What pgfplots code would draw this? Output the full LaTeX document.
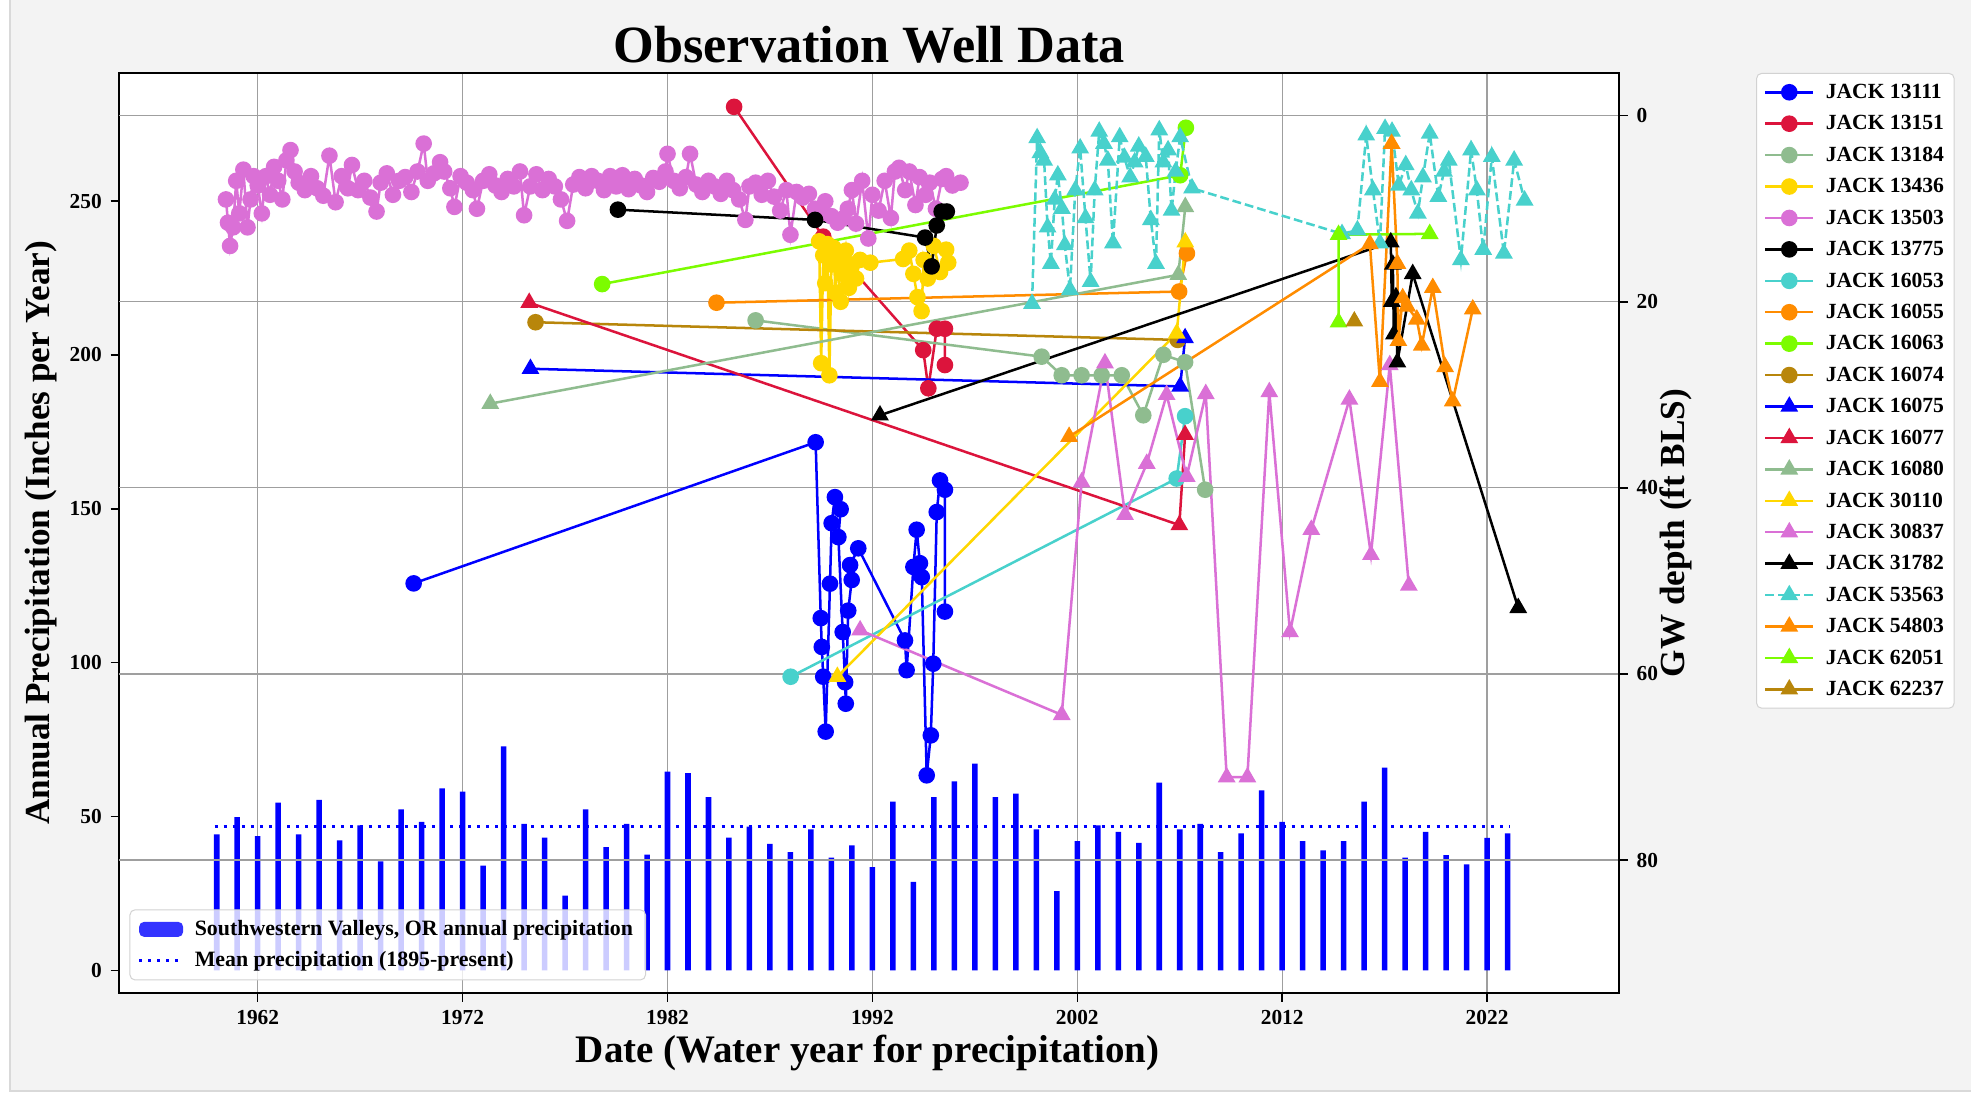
\documentclass[border=0pt]{standalone}
\usepackage{fontspec}
\setmainfont{Liberation Serif}
\usepackage{pgfplots}
\pgfplotsset{compat=1.18}

\definecolor{cBlue}{HTML}{0000FF}
\definecolor{cCrimson}{HTML}{DC143C}
\definecolor{cSeaGreen}{HTML}{8FBC8F}
\definecolor{cGold}{HTML}{FFD700}
\definecolor{cOrchid}{HTML}{DA70D6}
\definecolor{cTurq}{HTML}{48D1CC}
\definecolor{cOrange}{HTML}{FF8C00}
\definecolor{cLawn}{HTML}{7CFC00}
\definecolor{cGoldenrod}{HTML}{B8860B}
\definecolor{figbg}{HTML}{F3F3F3}

\pgfplotsset{
  common/.style={
    scale only axis, width=596.5pt, height=366pt,
    xmin=1955.25, xmax=2028.44,
    /pgf/number format/assume math mode=true,
    ticklabel style={font=\bfseries\fontsize{8.5}{10}\selectfont},
    tick style={black, line width=0.6pt},
    major tick length=3.5pt,
    tick align=outside,
    axis line style={line width=0.8pt},
    major grid style={gray!75, line width=0.5pt},
  },
  wc/.style={line width=1pt, mark=*, mark size=2.8pt, mark options={solid}, color=#1},
  wt/.style={line width=1pt, mark=triangle*, mark size=3.1pt, mark options={solid}, color=#1},
}

\begin{document}
\begin{tikzpicture}
\useasboundingbox (-47.5pt,-40pt) rectangle (736.5pt,395pt);
\fill[figbg] (-43.5pt,-39pt) rectangle (736.5pt,395pt);
\draw[gray!30, line width=0.8pt] (-43.5pt,395pt) -- (-43.5pt,-39pt) -- (736.5pt,-39pt);

\begin{axis}[common,
  axis background/.style={fill=white},
  ymin=-7.4, ymax=291.7,
  ytick={0,50,100,150,200,250},
  xtick={1962,1972,1982,1992,2002,2012,2022},
  xticklabels={1962,1972,1982,1992,2002,2012,2022},
  xtick pos=left, ytick pos=left,
  xmajorgrids,
  title={Observation Well Data},
  title style={font=\bfseries\fontsize{20.8}{24}\selectfont, at={(axis description cs:0.5,1.0314)}, anchor=center, yshift=-6.5pt},
  xlabel={Date (Water year for precipitation)},
  xlabel style={font=\bfseries\fontsize{15.5}{18}\selectfont, at={(axis description cs:0.499,-0.0655)}, anchor=center},
  ylabel={Annual Precipitation (Inches per Year)},
  ylabel style={font=\bfseries\fontsize{14}{16}\selectfont, at={(axis description cs:-0.052,0.5)}, anchor=center},
  legend style={at={(0.0067,0.0137)}, anchor=south west, fill=white, fill opacity=0.8, text opacity=1,
    draw=gray!35, rounded corners=2pt, font=\bfseries\fontsize{8.7}{10}\selectfont, row sep=0.8pt,
    /tikz/every odd column/.append style={column sep=2pt}},
  legend cell align=left,
]
\addplot[ybar, bar width=0.27, bar shift=0pt, fill=cBlue, draw=none,
  legend image code/.code={\fill[cBlue] (0pt,-3pt) rectangle (17.5pt,3pt);}]
coordinates {
(1960,44.2) (1961,49.8) (1962,43.6) (1963,54.5) (1964,44.2) (1965,55.4) (1966,42.2) (1967,47.1)
(1968,35.4) (1969,52.3) (1970,48.2) (1971,59.1) (1972,58.1) (1973,34.0) (1974,72.8) (1975,47.6)
(1976,43.1) (1977,24.3) (1978,52.3) (1979,40.0) (1980,47.6) (1981,37.6) (1982,64.6) (1983,64.1)
(1984,56.3) (1985,43.1) (1986,46.7) (1987,41.1) (1988,38.4) (1989,45.8) (1990,36.6) (1991,40.6)
(1992,33.5) (1993,54.8) (1994,28.7) (1995,56.3) (1996,61.4) (1997,67.2) (1998,56.3) (1999,57.4)
(2000,45.8) (2001,25.7) (2002,42.0) (2003,47.1) (2004,45.0) (2005,41.4) (2006,61.0) (2007,45.8)
(2008,47.6) (2009,38.4) (2010,44.5) (2011,58.5) (2012,48.2) (2013,42.0) (2014,39.0) (2015,42.0)
(2016,54.8) (2017,65.9) (2018,36.6) (2019,45.0) (2020,37.4) (2021,34.4) (2022,43.0) (2023,44.5)
};
\addlegendentry{Southwestern Valleys, OR annual precipitation}
\addplot[cBlue, line width=1.3pt, dash pattern=on 1.2pt off 2.4pt,
  legend image code/.code={\draw[cBlue, line width=1.3pt, dash pattern=on 1.2pt off 2.4pt] (0pt,0pt) -- (17.5pt,0pt);}]
coordinates {(1959.9,46.7) (2023.1,46.7)};
\addlegendentry{Mean precipitation (1895-present)}
\end{axis}

\begin{axis}[common,
  ymin=-4.6, ymax=94.3, y dir=reverse,
  ytick={0,20,40,60,80},
  axis x line=none, axis y line*=right,
  ymajorgrids,
  ylabel={GW depth (ft BLS)},
  ylabel style={font=\bfseries\fontsize{14}{16}\selectfont, at={(axis description cs:1.0377,0.5)}, anchor=center},
  legend style={at={(axis description cs:1.0914,1)}, anchor=north west, draw=gray!35, rounded corners=2pt,
    font=\bfseries\fontsize{8.6}{9}\selectfont, row sep=1.5pt,
    nodes={inner sep=1pt, text height=7pt, text depth=2pt},
    /tikz/every odd column/.append style={column sep=3.5pt}},
  legend cell align=left,
  legend image code/.code={\draw[mark repeat=2, mark phase=2] plot coordinates {(0pt,0pt) (9.5pt,0pt) (19pt,0pt)};},
]
% JACK 13111
\addplot[wc=cBlue] coordinates {(1969.61,50.27) (1989.23,35.1) (1989.48,54.0) (1989.53,57.1) (1989.6,60.3) (1989.72,66.2) (1989.93,50.3) (1990.01,43.8) (1990.17,41.0) (1990.45,42.3) (1990.34,45.3) (1990.55,55.5) (1990.67,60.9) (1990.70,63.2) (1990.82,53.2) (1990.99,49.9) (1990.91,48.3) (1991.31,46.5) (1993.59,56.4) (1993.67,59.6) (1994.0,48.5) (1994.16,44.5) (1994.32,48.1) (1994.41,49.6) (1994.65,70.9) (1994.85,66.6) (1994.97,58.9) (1995.14,42.6) (1995.30,39.2) (1995.54,40.2) (1995.54,53.3)};
\addlegendentry{JACK 13111}
% JACK 13151
\addplot[wc=cCrimson] coordinates {(1985.25,-0.95) (1989.6,13.0) (1994.48,25.2) (1994.73,29.3) (1995.14,22.9) (1995.54,22.9) (1995.54,26.8)};
\addlegendentry{JACK 13151}
% JACK 13184
\addplot[wc=cSeaGreen] coordinates {(1986.3,22.0) (2000.26,25.9) (2001.24,27.9) (2002.21,27.9) (2003.19,27.9) (2004.17,27.9) (2005.22,32.2) (2006.2,25.7) (2007.26,26.5) (2008.24,40.2)};
\addlegendentry{JACK 13184}
% JACK 13436
\addplot[wc=cGold] coordinates {(1989.4,13.5) (1989.5,26.6) (1989.6,15.0) (1989.7,18.0) (1989.8,13.8) (1989.9,27.9) (1990.0,16.0) (1990.1,14.2) (1990.2,19.0) (1990.3,15.5) (1990.45,20.0) (1990.55,17.0) (1990.7,14.5) (1990.85,18.5) (1991.0,16.0) (1991.2,17.5) (1991.4,15.5) (1991.9,15.8) (1993.5,15.4) (1993.8,14.5) (1994.0,17.0) (1994.2,19.5) (1994.4,21.0) (1994.5,15.5) (1994.7,17.5) (1995.0,14.0) (1995.3,16.8) (1995.6,14.4) (1995.7,15.8)};
\addlegendentry{JACK 13436}
% JACK 13503
\addplot[wc=cOrchid] coordinates {
(1960.45,9.0) (1960.55,11.5) (1960.65,14.0) (1960.8,12.0) (1960.95,7.0) (1961.1,10.5) (1961.3,5.8) (1961.5,12.0)
(1961.65,9.0) (1961.8,6.5) (1962.0,7.5) (1962.2,10.5) (1962.4,6.5) (1962.6,8.5) (1962.8,5.5) (1963.0,7.0)
(1963.2,9.0) (1963.4,4.8) (1963.6,3.7) (1963.8,6.0) (1964.0,7.2) (1964.3,8.0) (1964.6,6.5) (1964.9,7.8)
(1965.2,8.6) (1965.5,4.3) (1965.8,9.3) (1966.1,6.5) (1966.4,7.8) (1966.6,5.3) (1966.9,8.0) (1967.2,7.0)
(1967.5,8.8) (1967.8,10.3) (1968.0,7.2) (1968.3,6.2) (1968.6,8.5) (1968.9,7.0) (1969.2,6.6) (1969.5,8.2)
(1969.8,6.0) (1970.1,3.0) (1970.3,7.0) (1970.6,6.2) (1970.9,5.0) (1971.1,6.0) (1971.4,7.8) (1971.6,9.8)
(1971.9,6.5) (1972.2,7.2) (1972.5,8.0) (1972.7,10.0) (1973.0,7.0) (1973.3,6.3) (1973.6,7.5) (1973.9,8.2)
(1974.2,6.8) (1974.5,7.6) (1974.8,6.0) (1975.0,10.7) (1975.3,7.6) (1975.6,6.3) (1975.9,8.0) (1976.2,6.8)
(1976.5,7.6) (1976.8,9.0) (1977.1,11.3) (1977.4,7.4) (1977.7,6.6) (1978.0,7.8) (1978.3,6.5) (1978.6,7.0)
(1978.9,8.0) (1979.2,6.5) (1979.5,7.6) (1979.8,6.4) (1980.1,7.9) (1980.4,6.8) (1980.7,7.5) (1981.0,8.2)
(1981.3,6.7) (1981.6,7.1) (1981.9,6.0) (1982.0,4.1) (1982.3,7.0) (1982.6,7.8) (1982.9,6.6) (1983.1,4.1)
(1983.4,7.4) (1983.7,8.2) (1984.0,7.0) (1984.3,7.6) (1984.6,8.4) (1984.9,7.0) (1985.2,8.0) (1985.5,9.0)
(1985.8,11.2) (1986.0,7.6) (1986.3,7.2) (1986.6,8.5) (1986.9,7.0) (1987.2,8.7) (1987.5,10.2) (1987.8,8.0)
(1988.0,12.8) (1988.3,8.2) (1988.6,8.8) (1988.9,8.4) (1989.2,10.0) (1989.5,10.5) (1989.7,9.2) (1990.0,10.8)
(1990.3,11.5) (1990.6,11.0) (1990.8,10.0) (1991.0,8.0) (1991.2,11.6) (1991.5,7.0) (1991.8,13.2) (1992.0,8.5)
(1992.3,10.2) (1992.6,7.0) (1992.9,11.0) (1993.1,6.0) (1993.3,5.6) (1993.6,8.0) (1993.8,6.0) (1994.1,9.6)
(1994.3,6.6) (1994.6,8.5) (1994.8,7.2) (1995.1,10.0) (1995.4,6.8) (1995.6,6.5) (1995.9,7.5) (1996.3,7.2)};
\addlegendentry{JACK 13503}
% JACK 13775
\addplot[wc=black] coordinates {(1979.58,10.1) (1989.2,11.2) (1994.57,13.1) (1994.89,16.2) (1995.14,11.8) (1995.38,10.3) (1995.63,10.3)};
\addlegendentry{JACK 13775}
% JACK 16053
\addplot[wc=cTurq] coordinates {(1988.01,60.3) (2006.85,39.0) (2007.26,32.3)};
\addlegendentry{JACK 16053}
% JACK 16055
\addplot[wc=cOrange] coordinates {(1984.39,20.1) (2006.97,18.9) (2007.35,14.8)};
\addlegendentry{JACK 16055}
% JACK 16063
\addplot[wc=cLawn] coordinates {(1978.81,18.1) (2007.02,6.4) (2007.3,1.3)};
\addlegendentry{JACK 16063}
% JACK 16074
\addplot[wc=cGoldenrod] coordinates {(1975.56,22.2) (2006.9,24.1)};
\addlegendentry{JACK 16074}
% JACK 16075
\addplot[wt=cBlue] coordinates {(1975.31,27.2) (2007.02,29.1) (2007.26,23.9)};
\addlegendentry{JACK 16075}
% JACK 16077
\addplot[wt=cCrimson] coordinates {(1975.25,20.1) (2006.98,44.0) (2007.26,34.3)};
\addlegendentry{JACK 16077}
% JACK 16080
\addplot[wt=cSeaGreen] coordinates {(1973.35,30.95) (2006.93,17.1) (2007.27,9.8)};
\addlegendentry{JACK 16080}
% JACK 30110
\addplot[wt=cGold] coordinates {(1990.29,60.3) (2006.85,23.4) (2007.27,13.6)};
\addlegendentry{JACK 30110}
% JACK 30837
\addplot[wt=cOrchid] coordinates {(1991.4,55.3) (2001.24,64.4) (2002.21,39.4) (2003.35,26.6) (2004.33,42.9) (2005.39,37.4) (2006.36,30.0) (2007.34,38.8) (2008.27,29.9) (2009.29,71.1) (2010.3,71.1) (2011.37,29.7) (2012.38,55.5) (2013.42,44.5) (2015.28,30.5) (2016.33,47.2) (2017.25,26.8) (2018.18,50.5)};
\addlegendentry{JACK 30837}
% JACK 31782
\addplot[wt=black] coordinates {(1992.37,32.2) (2017.3,13.6) (2017.35,20.0) (2017.4,16.0) (2017.45,23.5) (2017.55,19.5) (2017.62,26.5) (2018.37,17.0) (2023.52,52.9)};
\addlegendentry{JACK 31782}
% JACK 53563
\addplot[wt=cTurq, dash pattern=on 3.5pt off 1.6pt] coordinates {
(1999.79,20.2) (2000.04,2.4) (2000.2,4.0) (2000.38,4.8) (2000.55,12.0) (2000.71,15.9) (2000.9,9.0) (2001.05,6.4) (2001.25,10.0) (2001.39,13.9)
(2001.64,18.7) (2001.9,8.0) (2002.14,3.5) (2002.4,11.0) (2002.65,17.85) (2002.85,8.0) (2003.07,1.7) (2003.3,3.0) (2003.49,4.8) (2003.74,13.7)
(2004.07,2.3) (2004.3,4.5) (2004.58,6.6) (2004.8,5.0) (2005.0,3.3) (2005.34,4.4) (2005.59,11.2) (2005.84,15.9)
(2006.0,1.55) (2006.2,5.0) (2006.43,3.7) (2006.6,10.2) (2006.8,6.0) (2007.02,2.3) (2007.6,7.8)
(2014.92,12.7) (2015.67,12.3) (2016.1,2.1) (2016.43,8.0) (2016.77,13.7) (2017.02,1.4) (2017.36,1.7) (2017.69,7.5)
(2018.03,5.3) (2018.3,8.0) (2018.62,10.5) (2018.87,6.6) (2019.2,1.9) (2019.62,8.7) (2019.9,6.0) (2020.13,4.8) (2020.72,15.5)
(2021.22,3.7) (2021.5,8.0) (2021.81,14.4) (2022.23,4.4) (2022.82,14.8) (2023.32,4.8) (2023.83,9.1)};
\addlegendentry{JACK 53563}
% JACK 54803
\addplot[wt=cOrange] coordinates {(2001.6,34.5) (2016.28,13.8) (2016.77,28.6) (2017.34,3.0) (2017.62,15.9) (2017.67,24.2) (2017.88,19.6) (2018.1,20.5) (2018.57,21.9) (2018.81,24.7) (2019.35,18.5) (2019.95,27.0) (2020.32,30.7) (2021.30,20.8)};
\addlegendentry{JACK 54803}
% JACK 62051
\addplot[wt=cLawn] coordinates {(2014.75,22.2) (2014.75,12.8) (2019.2,12.7)};
\addlegendentry{JACK 62051}
% JACK 62237
\addplot[wt=cGoldenrod] coordinates {(2015.52,22.1)};
\addlegendentry{JACK 62237}
\end{axis}
\end{tikzpicture}
\end{document}
